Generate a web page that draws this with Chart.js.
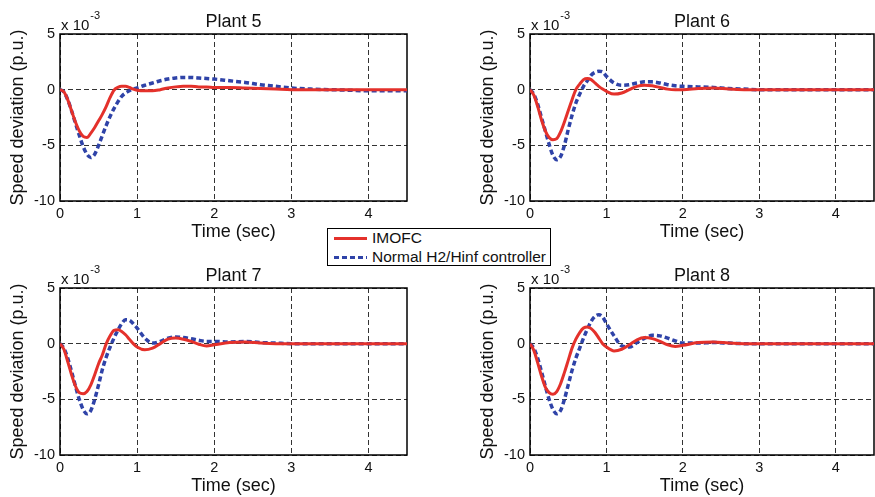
<!DOCTYPE html>
<html>
<head>
<meta charset="utf-8">
<script src="https://cdn.jsdelivr.net/npm/chart.js@4.4.1/dist/chart.umd.min.js"></script>
<style>
    html, body { margin: 0; padding: 0; background: #fff; overflow: hidden; }
    body { width: 875px; height: 497px; position: relative; font-family: 'Liberation Sans', Arial, sans-serif; }
    .plot { position: absolute; }
    #legend {
        position: absolute; left: 327px; top: 228px; width: 224px; height: 38px;
        border: 1px solid #000; background: #fff; box-sizing: border-box;
        font-size: 15.5px; color: #111;
    }
    #legend .row { position: absolute; left: 6px; height: 18px; display: flex; align-items: center; }
    #legend .swatch { width: 33px; height: 3px; margin-right: 5px; }
</style>
</head>
<body>
<canvas id="plant5" class="plot"></canvas>
<canvas id="plant6" class="plot"></canvas>
<canvas id="plant7" class="plot"></canvas>
<canvas id="plant8" class="plot"></canvas>
<div id="legend"></div>

<script>
// time axis (sec), shared by every trace
const time = [0, 0.05, 0.1, 0.15, 0.2, 0.25, 0.3, 0.35, 0.4, 0.45, 0.5, 0.55, 0.6, 0.65, 0.7, 0.75, 0.8, 0.85, 0.9, 0.95,
    1.0, 1.1, 1.2, 1.3, 1.4, 1.5, 1.6, 1.7, 1.8, 1.9, 2.0,
    2.2, 2.4, 2.6, 2.8, 3.0, 3.25, 3.5, 3.75, 4.0, 4.25, 4.5];

// speed deviation in units of 1e-3 p.u.
const imofc5 = [0, -0.2, -0.9, -1.9, -2.9, -3.7, -4.2, -4.3, -3.9, -3.4, -2.8, -2.2, -1.5, -0.7, -0.05, 0.2, 0.3, 0.3, 0.2, 0.05,
    -0.05, -0.1, -0.1, 0, 0.15, 0.25, 0.3, 0.3, 0.25, 0.25, 0.2,
    0.2, 0.15, 0.1, 0.05, 0, 0, 0, 0, 0, 0, 0];
const hinf5 = [0, -0.2, -0.9, -1.9, -3.0, -4.1, -5.1, -5.8, -6.1, -5.8, -5.0, -4.1, -3.2, -2.4, -1.7, -1.1, -0.6, -0.3, -0.1, 0.05,
    0.15, 0.4, 0.6, 0.8, 0.95, 1.05, 1.1, 1.1, 1.05, 1.0, 0.95,
    0.8, 0.65, 0.45, 0.3, 0.15, 0.05, 0, -0.05, -0.1, -0.1, -0.1];

const imofc6 = [0, -0.5, -1.5, -2.7, -3.7, -4.3, -4.5, -4.4, -3.8, -2.9, -1.9, -0.9, 0, 0.5, 0.9, 1.0, 0.9, 0.6, 0.3, 0.05,
    -0.15, -0.4, -0.3, 0, 0.3, 0.4, 0.35, 0.2, 0.05, 0, 0,
    0.1, 0.15, 0.05, 0, 0, 0, 0, 0, 0, 0, 0];
const hinf6 = [0, -0.4, -1.3, -2.5, -3.7, -4.9, -5.9, -6.3, -6.0, -5.0, -3.6, -2.3, -1.2, -0.4, 0.3, 0.8, 1.3, 1.55, 1.65, 1.6,
    1.2, 0.6, 0.4, 0.45, 0.6, 0.7, 0.7, 0.6, 0.45, 0.35, 0.3,
    0.25, 0.2, 0.1, 0.05, 0, 0, 0, 0, 0, 0, 0];

const imofc7 = [0, -0.5, -1.6, -2.8, -3.8, -4.4, -4.5, -4.3, -3.7, -2.8, -1.8, -1.0, 0, 0.7, 1.2, 1.25, 1.1, 0.8, 0.4, 0,
    -0.3, -0.55, -0.4, 0, 0.4, 0.5, 0.4, 0.2, -0.05, -0.2, -0.1,
    0.1, 0.15, 0.05, 0, 0, 0, 0, 0, 0, 0, 0];
const hinf7 = [0, -0.4, -1.3, -2.5, -3.8, -5.0, -5.9, -6.3, -6.0, -5.0, -3.7, -2.3, -1.2, -0.3, 0.5, 1.2, 1.8, 2.15, 2.1, 1.8,
    1.4, 0.5, 0.05, 0.2, 0.5, 0.6, 0.55, 0.45, 0.3, 0.2, 0.2,
    0.15, 0.2, 0.1, 0.05, 0, 0, 0, 0, 0, 0, 0];

const imofc8 = [0, -0.6, -1.7, -2.9, -3.9, -4.4, -4.55, -4.3, -3.6, -2.6, -1.5, -0.4, 0.4, 1.0, 1.4, 1.5, 1.35, 1.0, 0.5, 0,
    -0.3, -0.65, -0.5, -0.1, 0.35, 0.55, 0.45, 0.2, -0.1, -0.25, -0.15,
    0.1, 0.15, 0.05, 0, 0, 0, 0, 0, 0, 0, 0];
const hinf8 = [0, -0.4, -1.3, -2.5, -3.8, -5.0, -5.9, -6.3, -6.0, -5.0, -3.7, -2.4, -1.3, -0.4, 0.5, 1.3, 2.0, 2.45, 2.6, 2.4,
    1.8, 0.7, -0.2, -0.3, 0.1, 0.5, 0.75, 0.7, 0.5, 0.25, 0.05,
    0.05, 0.1, 0.05, 0, 0, 0, 0, 0, 0, 0, 0];

const xTicks = [0, 1, 2, 3, 4];
const yTicks = [-10, -5, 0, 5];
const seriesNames = ['IMOFC', 'Normal H2/Hinf controller'];

const RED = '#e4312b';
const BLUE = '#2f43a8';
const FONT = "'Liberation Sans', Arial, sans-serif";

// frame, title and the x10^-3 multiplier
const framePlugin = {
    id: 'frame',
    beforeDatasetsDraw(chart) {
        const { ctx, chartArea: a } = chart;
        ctx.save();
        ctx.strokeStyle = '#000';
        ctx.lineWidth = 1.5;
        ctx.strokeRect(a.left, a.top, a.right - a.left, a.bottom - a.top);
        ctx.restore();
    },
    afterDraw(chart, args, opts) {
        const { ctx, chartArea: a } = chart;
        ctx.save();
        ctx.fillStyle = '#111';
        ctx.textBaseline = 'alphabetic';
        ctx.textAlign = 'center';
        ctx.font = '18px ' + FONT;
        ctx.fillText(opts.text, (a.left + a.right) / 2, a.top - 7);
        ctx.textAlign = 'left';
        ctx.font = '15px ' + FONT;
        ctx.fillText('x 10', a.left + 1, a.top - 4);
        const w = ctx.measureText('x 10').width;
        ctx.font = '11px ' + FONT;
        ctx.fillText('-3', a.left + 1 + w + 1, a.top - 15);
        ctx.restore();
    }
};

function makePlot(id, title, left, top, width, red, blue) {
    const canvas = document.getElementById(id);
    canvas.style.left = left + 'px';
    canvas.style.top = top + 'px';
    canvas.width = width;
    canvas.height = 250;
    canvas.style.width = width + 'px';
    canvas.style.height = '250px';

    const pts = vals => time.map((t, i) => ({ x: t, y: vals[i] }));
    const areaWidth = left === 0 ? 347 : 344;

    return new Chart(canvas.getContext('2d'), {
        type: 'line',
        data: {
            datasets: [{
                label: seriesNames[0],
                data: pts(red),
                borderColor: RED,
                borderWidth: 3,
                pointRadius: 0,
                cubicInterpolationMode: 'monotone'
            }, {
                label: seriesNames[1],
                data: pts(blue),
                borderColor: BLUE,
                borderWidth: 3.5,
                borderDash: [5, 3],
                borderCapStyle: 'butt',
                pointRadius: 0,
                cubicInterpolationMode: 'monotone'
            }]
        },
        options: {
            responsive: false,
            animation: false,
            events: [],
            layout: { padding: { top: 34, right: width - 60 - areaWidth, left: 0, bottom: 0 } },
            plugins: {
                legend: { display: false },
                tooltip: { enabled: false },
                frame: { text: title }
            },
            scales: {
                x: {
                    type: 'linear',
                    min: 0,
                    max: 4.5,
                    afterBuildTicks: scale => { scale.ticks = xTicks.map(v => ({ value: v })); },
                    afterFit: scale => { scale.height = 49; },
                    grid: { color: '#333', lineWidth: 1, drawTicks: false },
                    border: { display: false, dash: [5, 3] },
                    ticks: { color: '#111', padding: 4, maxRotation: 0, font: { family: FONT, size: 14.5 } },
                    title: { display: true, text: 'Time (sec)', color: '#111', padding: { top: 0, bottom: 7 }, font: { family: FONT, size: 18 } }
                },
                y: {
                    min: -10,
                    max: 5,
                    afterBuildTicks: scale => { scale.ticks = yTicks.map(v => ({ value: v })); },
                    afterFit: scale => { scale.width = 60; },
                    grid: { color: '#333', lineWidth: 1, drawTicks: false },
                    border: { display: false, dash: [5, 3] },
                    ticks: { color: '#111', padding: 5, font: { family: FONT, size: 14.5 } },
                    title: { display: true, text: 'Speed deviation (p.u.)', color: '#111', padding: { top: 7, bottom: 0 }, font: { family: FONT, size: 18 } }
                }
            }
        },
        plugins: [framePlugin]
    });
}

const charts = [
    makePlot('plant5', 'Plant 5', 0, 0, 420, imofc5, hinf5),
    makePlot('plant6', 'Plant 6', 470, 0, 405, imofc6, hinf6),
    makePlot('plant7', 'Plant 7', 0, 254, 420, imofc7, hinf7),
    makePlot('plant8', 'Plant 8', 470, 254, 405, imofc8, hinf8)
];

// legend shared by all four plots, built from the dataset styles
const legend = document.getElementById('legend');
charts[0].data.datasets.forEach((ds, i) => {
    const row = document.createElement('div');
    row.className = 'row';
    row.style.top = (i === 0 ? 0 : 19) + 'px';
    const sw = document.createElement('span');
    sw.className = 'swatch';
    if (ds.borderDash) {
        sw.style.background = `repeating-linear-gradient(90deg, ${ds.borderColor} 0 5px, transparent 5px 8px)`;
    } else {
        sw.style.background = ds.borderColor;
    }
    const txt = document.createElement('span');
    txt.textContent = ds.label;
    row.appendChild(sw);
    row.appendChild(txt);
    legend.appendChild(row);
});
</script>
</body>
</html>
